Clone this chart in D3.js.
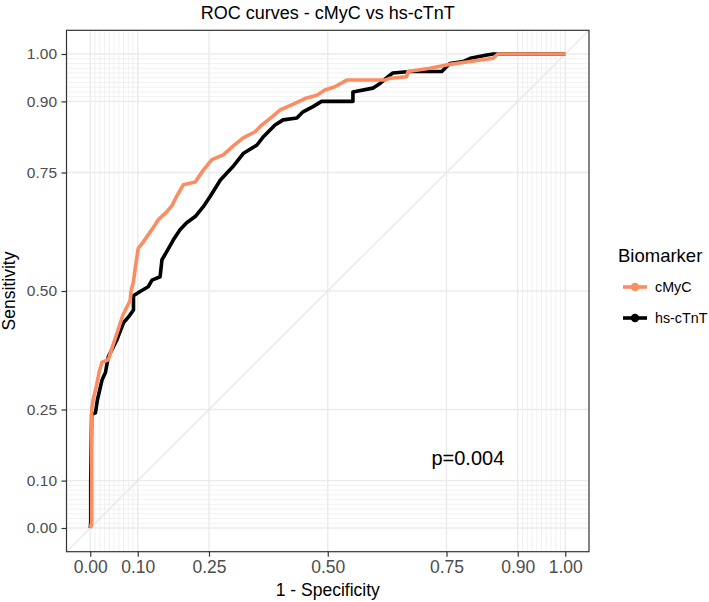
<!DOCTYPE html>
<html>
<head>
<meta charset="utf-8">
<script src="https://cdn.jsdelivr.net/npm/d3@7"></script>
<style>
  body { margin: 0; background: #fff; }
  text { font-family: "Liberation Sans", Arial, Helvetica, sans-serif; }
</style>
</head>
<body>
<svg id="chart" width="709" height="602"></svg>
<script>
// ---- data ----
const seriesNames = ["cMyC", "hs-cTnT"];
const seriesColors = ["#FC8D62", "#000000"];
const majorBreaks = [0, 0.1, 0.25, 0.5, 0.75, 0.9, 1];
const majorLabels = ["0.00", "0.10", "0.25", "0.50", "0.75", "0.90", "1.00"];
const minorBreaks = [0.01,0.02,0.03,0.04,0.05,0.06,0.07,0.08,0.09,0.91,0.92,0.93,0.94,0.95,0.96,0.97,0.98,0.99];

// 1 - specificity (FPF) and sensitivity (TPF) for cMyC
const cmycFPF = [0,0.003,0.003,0.006,0.013,0.019,0.025,0.038,0.046,0.056,0.069,0.084,0.086,0.091,0.095,0.101,0.109,0.123,0.130,0.143,0.161,0.172,0.182,0.196,0.221,0.238,0.256,0.280,0.300,0.322,0.347,0.361,0.382,0.400,0.431,0.452,0.477,0.494,0.515,0.540,0.621,0.631,0.666,0.669,0.715,0.750,0.800,0.848,0.858,1];
const cmycTPF = [0,0.011,0.250,0.270,0.300,0.330,0.350,0.355,0.380,0.410,0.450,0.480,0.500,0.520,0.550,0.590,0.600,0.620,0.630,0.650,0.667,0.680,0.700,0.724,0.730,0.755,0.777,0.787,0.805,0.823,0.836,0.850,0.867,0.882,0.896,0.906,0.913,0.924,0.931,0.945,0.945,0.949,0.952,0.963,0.970,0.977,0.984,0.991,1.000,1];

// 1 - specificity (FPF) and sensitivity (TPF) for hs-cTnT
const ctntFPF = [0,0.001,0.001,0.003,0.011,0.015,0.025,0.032,0.038,0.056,0.070,0.081,0.091,0.091,0.105,0.122,0.130,0.147,0.151,0.161,0.175,0.189,0.203,0.221,0.238,0.252,0.274,0.300,0.322,0.351,0.365,0.389,0.406,0.435,0.448,0.469,0.487,0.553,0.553,0.595,0.610,0.627,0.637,0.673,0.740,0.757,0.785,0.800,0.835,0.848,1];
const ctntTPF = [0,0.011,0.100,0.240,0.243,0.270,0.313,0.328,0.361,0.397,0.433,0.446,0.460,0.490,0.499,0.509,0.523,0.530,0.566,0.583,0.608,0.629,0.644,0.657,0.678,0.699,0.734,0.762,0.790,0.808,0.826,0.850,0.861,0.865,0.878,0.889,0.900,0.900,0.920,0.928,0.938,0.952,0.960,0.963,0.963,0.980,0.984,0.991,0.998,1.000,1];

const pLabel = "p=0.004";

// ---- layout ----
const svg = d3.select("#chart");
const panel = {left: 66.5, right: 589, top: 30.3, bottom: 551.7};
const x = d3.scaleLinear().domain([-0.05, 1.05]).range([panel.left, panel.right]);
const y = d3.scaleLinear().domain([-0.05, 1.05]).range([panel.bottom, panel.top]);

const g = svg.append("g");

// minor grid
g.selectAll(".mgx").data(minorBreaks).enter().append("line")
  .attr("x1", d => x(d)).attr("x2", d => x(d))
  .attr("y1", panel.top).attr("y2", panel.bottom)
  .attr("stroke", "#EBEBEB").attr("stroke-width", 0.7);
g.selectAll(".mgy").data(minorBreaks).enter().append("line")
  .attr("y1", d => y(d)).attr("y2", d => y(d))
  .attr("x1", panel.left).attr("x2", panel.right)
  .attr("stroke", "#EBEBEB").attr("stroke-width", 0.7);
// major grid
g.selectAll(".Mgx").data(majorBreaks).enter().append("line")
  .attr("x1", d => x(d)).attr("x2", d => x(d))
  .attr("y1", panel.top).attr("y2", panel.bottom)
  .attr("stroke", "#EBEBEB").attr("stroke-width", 1.4);
g.selectAll(".Mgy").data(majorBreaks).enter().append("line")
  .attr("y1", d => y(d)).attr("y2", d => y(d))
  .attr("x1", panel.left).attr("x2", panel.right)
  .attr("stroke", "#EBEBEB").attr("stroke-width", 1.4);

// diagonal reference line
g.append("line")
  .attr("x1", x(-0.05)).attr("y1", y(-0.05))
  .attr("x2", x(1.05)).attr("y2", y(1.05))
  .attr("stroke", "#E6E6E6").attr("stroke-width", 1.2);

// curves
const line = d3.line().x(d => x(d[0])).y(d => y(d[1])).curve(d3.curveLinear);
const ctnt = ctntFPF.map((v, i) => [v, ctntTPF[i]]);
const cmyc = cmycFPF.map((v, i) => [v, cmycTPF[i]]);
g.append("path").datum(ctnt).attr("d", line)
  .attr("fill", "none").attr("stroke", seriesColors[1]).attr("stroke-width", 3.6)
  .attr("stroke-linejoin", "round");
g.append("path").datum(cmyc).attr("d", line)
  .attr("fill", "none").attr("stroke", seriesColors[0]).attr("stroke-width", 3.6)
  .attr("stroke-linejoin", "round");

// p-value annotation
g.append("text").attr("x", x(0.795)).attr("y", 465)
  .attr("text-anchor", "middle").attr("font-size", 20).attr("fill", "#000")
  .text(pLabel);

// panel border
g.append("rect").attr("x", panel.left).attr("y", panel.top)
  .attr("width", panel.right - panel.left).attr("height", panel.bottom - panel.top)
  .attr("fill", "none").attr("stroke", "#333333").attr("stroke-width", 1.2);

// axes
const xAxis = d3.axisBottom(x).tickValues(majorBreaks).tickFormat((d, i) => majorLabels[i]).tickSize(5).tickPadding(4);
const yAxis = d3.axisLeft(y).tickValues(majorBreaks).tickFormat((d, i) => majorLabels[i]).tickSize(5).tickPadding(4.5);
const xa = svg.append("g").attr("transform", `translate(0,${panel.bottom})`).call(xAxis);
const ya = svg.append("g").attr("transform", `translate(${panel.left},0)`).call(yAxis);
[xa, ya].forEach(a => {
  a.select(".domain").remove();
  a.selectAll(".tick line").attr("stroke", "#333333").attr("stroke-width", 1.2);
  a.selectAll(".tick text").attr("fill", "#4D4D4D")
    .attr("font-family", "Liberation Sans, Arial, sans-serif");
});
xa.selectAll(".tick text").attr("font-size", 17.5);
ya.selectAll(".tick text").attr("font-size", 15.5);

// axis titles
svg.append("text").attr("x", (panel.left + panel.right) / 2).attr("y", 596)
  .attr("text-anchor", "middle").attr("font-size", 17.5).attr("fill", "#000")
  .text("1 - Specificity");
svg.append("text").attr("transform", `translate(15,${(panel.top + panel.bottom) / 2}) rotate(-90)`)
  .attr("text-anchor", "middle").attr("font-size", 17.5).attr("fill", "#000")
  .text("Sensitivity");

// title
svg.append("text").attr("x", (panel.left + panel.right) / 2).attr("y", 19)
  .attr("text-anchor", "middle").attr("font-size", 18).attr("fill", "#000")
  .text("ROC curves - cMyC vs hs-cTnT");

// legend
const leg = svg.append("g");
leg.append("text").attr("x", 618).attr("y", 262).attr("font-size", 18.5).attr("fill", "#000").text("Biomarker");
const keyY = [287, 318];
seriesNames.forEach((name, i) => {
  leg.append("line").attr("x1", 623).attr("x2", 647).attr("y1", keyY[i]).attr("y2", keyY[i])
    .attr("stroke", seriesColors[i]).attr("stroke-width", 3.6);
  leg.append("circle").attr("cx", 635).attr("cy", keyY[i]).attr("r", 4.2).attr("fill", seriesColors[i]);
  leg.append("text").attr("x", 655).attr("y", keyY[i] + 5).attr("font-size", 14.3).attr("fill", "#000").text(name);
});
</script>
</body>
</html>
